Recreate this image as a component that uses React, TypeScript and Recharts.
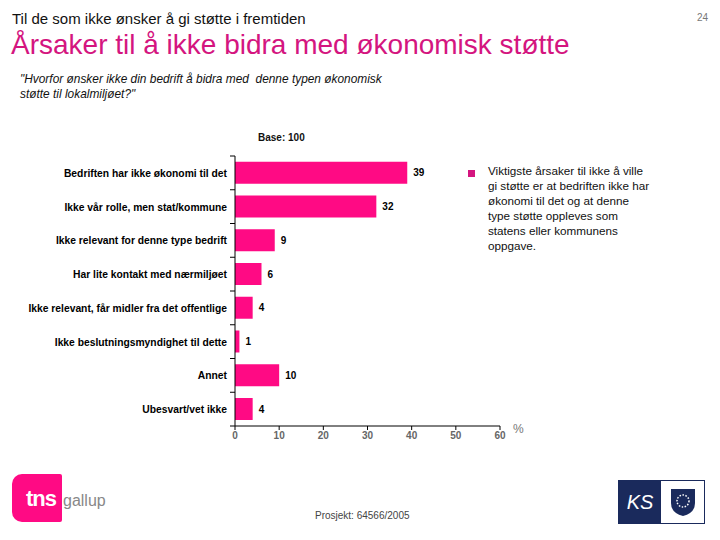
import { Bar, BarChart, LabelList, XAxis, YAxis } from "recharts";

const reasons = [
  "Bedriften har ikke økonomi til det",
  "Ikke vår rolle, men stat/kommune",
  "Ikke relevant for denne type bedrift",
  "Har lite kontakt med nærmiljøet",
  "Ikke relevant, får midler fra det offentlige",
  "Ikke beslutningsmyndighet til dette",
  "Annet",
  "Ubesvart/vet ikke",
];
const shares = [39, 32, 9, 6, 4, 1, 10, 4];
const xTicks = [0, 10, 20, 30, 40, 50, 60];

const legendLines = [
  "Viktigste årsaker til ikke å ville",
  "gi støtte er at bedriften ikke har",
  "økonomi til det og at denne",
  "type støtte oppleves som",
  "statens eller kommunens",
  "oppgave.",
];

const PINK = "#ff0a84";
const font = "'Liberation Sans', Arial, sans-serif";

// label plus a small tick mark on the band edge above it (last one also below)
// x here is the axis line itself (tickSize and tickMargin are 0)
function CategoryTick(props: any) {
  const { x, y, payload, height, visibleTicksCount, index } = props;
  const half = height / visibleTicksCount / 2;
  return (
    <g>
      <line x1={x - 5} x2={x} y1={y - half} y2={y - half} stroke="#000" />
      {index === visibleTicksCount - 1 && (
        <line x1={x - 5} x2={x} y1={y + half} y2={y + half} stroke="#000" />
      )}
      <text
        x={x - 8}
        y={y}
        dy={4}
        textAnchor="end"
        fontSize={10.3}
        fontWeight="bold"
        fill="#000"
        fontFamily={font}
      >
        {payload.value}
      </text>
    </g>
  );
}

export default function App() {
  const data = reasons.map((name, i) => ({ name, value: shares[i] }));

  return (
    <div
      style={{
        position: "fixed",
        left: 0,
        top: 0,
        width: 720,
        height: 540,
        background: "#fff",
        fontFamily: font,
        overflow: "hidden",
      }}
    >
      <div style={{ position: "absolute", left: 12, top: 10, fontSize: 15, color: "#111" }}>
        Til de som ikke ønsker å gi støtte i fremtiden
      </div>
      <div style={{ position: "absolute", right: 12, top: 12, fontSize: 10, color: "#777" }}>24</div>
      <div style={{ position: "absolute", left: 11, top: 29, fontSize: 28, color: "#d4157f" }}>
        Årsaker til å ikke bidra med økonomisk støtte
      </div>
      <div
        style={{
          position: "absolute",
          left: 20,
          top: 72,
          fontSize: 11.9,
          fontStyle: "italic",
          lineHeight: "15px",
          color: "#111",
        }}
      >
        "Hvorfor ønsker ikke din bedrift å bidra med&nbsp; denne typen økonomisk
        <br />
        støtte til lokalmiljøet?"
      </div>
      <div
        style={{ position: "absolute", left: 258, top: 132, fontSize: 10, fontWeight: "bold", color: "#111" }}
      >
        Base: 100
      </div>

      <div style={{ position: "absolute", left: 0, top: 140 }}>
        <BarChart
          width={520}
          height={310}
          data={data}
          layout="vertical"
          barCategoryGap="17%"
          margin={{ top: 16, right: 20, bottom: 4, left: 0 }}
        >
          <XAxis
            type="number"
            domain={[0, 60]}
            ticks={xTicks}
            interval={0}
            height={20}
            tickSize={4}
            axisLine={{ stroke: "#000" }}
            tickLine={{ stroke: "#000" }}
            tick={{ fontSize: 10, fontWeight: "bold", fill: "#666", fontFamily: font }}
          />
          <YAxis
            type="category"
            dataKey="name"
            width={235}
            interval={0}
            tickSize={0}
            tickMargin={0}
            axisLine={{ stroke: "#000" }}
            tickLine={false}
            tick={<CategoryTick />}
          />
          <Bar dataKey="value" fill={PINK} isAnimationActive={false}>
            <LabelList
              dataKey="value"
              position="right"
              offset={6}
              style={{ fontSize: 10, fontWeight: "bold", fill: "#000", fontFamily: font }}
            />
          </Bar>
        </BarChart>
      </div>
      <div style={{ position: "absolute", left: 513, top: 422, fontSize: 12, color: "#777" }}>%</div>

      <div style={{ position: "absolute", left: 468, top: 170, width: 7, height: 7, background: "#d4157f" }} />
      <div
        style={{
          position: "absolute",
          left: 488,
          top: 163,
          fontSize: 11.7,
          lineHeight: "15px",
          color: "#111",
        }}
      >
        {legendLines.map((l) => (
          <div key={l}>{l}</div>
        ))}
      </div>

      <div style={{ position: "absolute", left: 315, top: 510, fontSize: 10, color: "#444" }}>
        Prosjekt: 64566/2005
      </div>

      {/* tns gallup mark */}
      <div
        style={{
          position: "absolute",
          left: 12,
          top: 474,
          width: 50,
          height: 48,
          background: PINK,
          borderRadius: "10px 2px 2px 10px",
        }}
      />
      <div
        style={{
          position: "absolute",
          left: 26,
          top: 486,
          fontSize: 22,
          fontWeight: "bold",
          color: "#fff",
          letterSpacing: -1,
        }}
      >
        tns
      </div>
      <div style={{ position: "absolute", left: 63, top: 492, fontSize: 16, color: "#888" }}>gallup</div>

      {/* KS mark */}
      <div style={{ position: "absolute", left: 618, top: 480, width: 85, height: 42, border: "1px solid #1a2a5c" }}>
        <div
          style={{
            position: "absolute",
            left: 0,
            top: 0,
            width: 42,
            height: 42,
            background: "#1a2a5c",
            color: "#fff",
            fontSize: 20,
            fontStyle: "italic",
            textAlign: "center",
            lineHeight: "42px",
          }}
        >
          KS
        </div>
        <svg style={{ position: "absolute", left: 50, top: 6 }} width="28" height="30">
          <path d="M2 2 H26 V16 Q26 26 14 29 Q2 26 2 16 Z" fill="#1a2a5c" />
          <circle cx="14" cy="14" r="6" fill="none" stroke="#fff" strokeWidth="1.5" strokeDasharray="1.5 1.5" />
        </svg>
      </div>
    </div>
  );
}
